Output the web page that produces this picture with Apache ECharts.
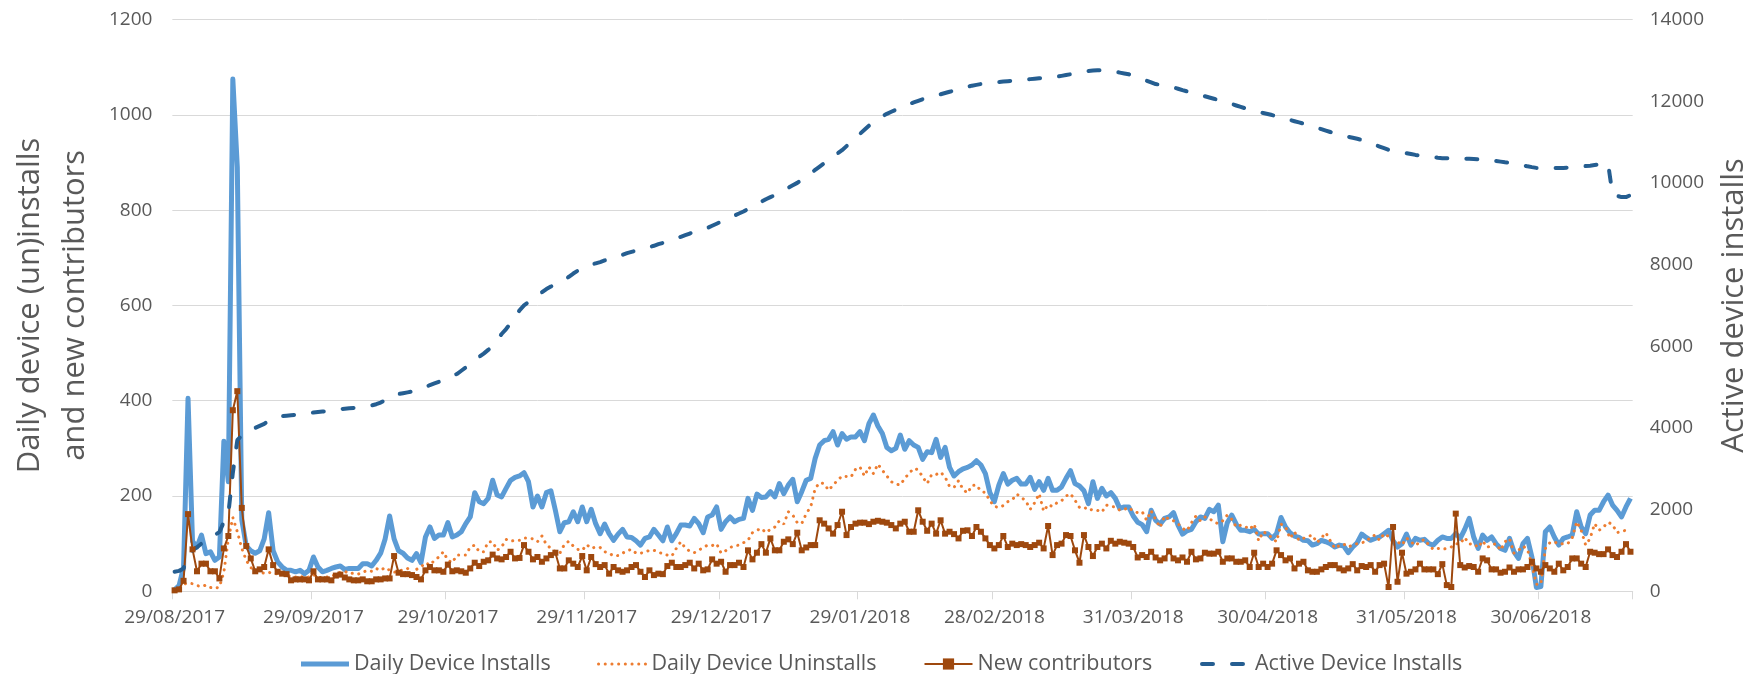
<!DOCTYPE html>
<html><head><meta charset="utf-8">
<script src="https://cdn.jsdelivr.net/npm/echarts@6/dist/echarts.min.js"></script>
<style>html,body{margin:0;padding:0;background:#fff}#c{width:1763px;height:674px}</style>
</head><body><div id="c"></div><script>
// ---------- DATA ----------
const startDate = [2017, 8, 29];   // first day (29/08/2017), one value per day
const dayCount = 326;
const tickIndex = [0, 31, 61, 92, 122, 153, 183, 214, 244, 275, 305];
const tickLabels = ['29/08/2017','29/09/2017','29/10/2017','29/11/2017','29/12/2017','29/01/2018','28/02/2018','31/03/2018','30/04/2018','31/05/2018','30/06/2018'];

const dailyInstalls = [
3,12,50,405,105,93,118,79,83,65,
72,315,230,1075,890,150,95,85,80,85,
110,165,85,62,51,44,44,41,44,37,
44,72,51,41,44,48,51,53,46,48,
48,48,58,58,53,65,80,110,158,110,
85,80,70,65,79,60,114,135,111,118,
118,144,114,118,125,142,156,207,188,184,
195,233,202,198,216,233,239,242,249,230,
177,200,177,207,211,170,125,144,146,167,
146,177,146,172,142,121,141,121,107,120,
130,114,113,106,97,111,114,130,118,106,
135,106,121,139,139,137,153,142,123,156,
160,177,130,146,156,146,151,153,195,170,
204,197,198,209,198,226,205,223,235,188,
209,233,237,279,307,316,319,335,307,331,
319,324,324,335,316,352,370,347,331,302,
295,300,328,298,316,307,302,277,293,291,
319,281,302,260,242,251,257,260,265,274,
265,247,207,188,223,247,225,233,237,225,
225,239,214,230,212,237,212,212,219,237,
253,226,221,211,184,230,195,216,200,207,
195,174,177,177,158,145,140,125,170,149,
141,153,156,165,139,120,127,130,146,156,
153,172,167,181,104,144,160,141,128,128,
125,130,120,121,121,111,121,155,135,123,
116,113,107,106,97,100,107,104,100,93,
97,95,81,93,102,120,113,107,111,114,
121,128,106,93,100,120,97,111,107,109,
100,97,107,114,111,111,121,111,130,153,
114,90,118,107,114,100,90,86,111,83,
69,100,111,72,8,10,125,135,114,97,
111,114,118,167,135,121,160,170,170,188,
202,181,170,156,177,195
];

const dailyUninstalls = [
0,5,15,17,16,12,10,13,8,6,
9,40,110,155,125,90,65,50,42,40,
38,40,37,37,38,35,30,30,32,28,
30,35,30,28,30,32,35,40,42,37,
38,36,40,44,42,48,44,50,44,40,
42,45,48,37,46,51,60,55,65,72,
83,65,60,76,76,76,93,97,83,83,
104,104,86,93,109,105,107,107,112,112,
110,104,116,98,90,83,80,98,105,95,
88,86,98,90,93,92,83,80,74,75,
80,85,88,80,80,82,86,86,83,78,
76,74,90,104,91,84,81,86,92,97,
96,100,80,85,92,95,97,102,107,123,
128,132,123,130,135,148,141,167,160,144,
142,163,177,216,228,226,212,223,233,242,
241,240,256,261,242,261,247,267,254,242,
230,225,223,237,248,258,255,240,226,245,
245,250,240,220,218,232,214,206,222,223,
210,207,190,178,176,180,188,192,204,197,
190,172,186,205,168,182,178,186,190,200,
205,191,176,177,170,172,170,166,181,178,
177,170,172,176,168,165,167,149,169,151,
134,158,151,148,142,132,127,144,158,148,
156,153,145,142,148,160,151,135,139,136,
130,141,106,125,120,112,104,141,135,111,
125,107,111,115,118,102,112,123,106,90,
96,99,93,97,100,102,104,114,118,107,
121,115,109,104,97,112,104,96,104,109,
97,88,90,88,90,93,100,100,113,99,
100,92,106,92,97,100,86,104,111,80,
86,95,88,55,15,15,90,102,104,99,
100,100,112,146,128,97,111,142,128,135,
145,140,123,126,128,132
];

const newContributors = [
2,4,22,162,88,42,58,58,42,42,
27,90,116,380,420,175,95,69,42,46,
51,88,55,41,37,36,23,25,25,25,
23,42,25,25,25,23,33,35,29,25,
23,23,25,21,21,25,25,27,27,74,
39,36,36,34,30,25,44,51,44,44,
41,56,42,44,42,39,48,60,53,62,
65,77,69,67,72,83,69,70,97,83,
67,72,62,69,76,81,48,48,65,58,
51,74,44,72,57,51,55,37,51,44,
41,44,51,55,41,30,44,34,37,36,
53,60,51,51,55,60,48,58,44,46,
67,58,62,41,55,55,60,51,86,67,
81,99,81,111,86,86,104,109,99,123,
86,92,97,97,149,142,132,121,139,167,
118,135,142,144,144,141,146,148,146,144,
139,132,142,146,125,125,170,146,127,142,
121,149,121,125,120,111,127,128,116,135,
125,111,97,90,97,116,93,100,97,99,
97,93,97,102,90,137,76,97,100,118,
116,86,60,118,93,74,93,100,90,106,
100,104,102,100,93,71,76,72,83,71,
65,69,84,69,65,71,62,83,67,69,
81,79,79,83,62,69,69,62,62,65,
51,81,51,58,51,58,86,76,65,69,
48,58,62,44,41,41,46,51,55,55,
48,44,48,57,44,53,51,55,41,55,
58,9,135,20,81,37,41,46,58,46,
46,46,36,57,13,9,163,55,50,53,
51,41,69,65,46,46,39,41,50,41,
46,46,51,62,48,41,55,48,41,58,
44,51,69,69,58,51,83,81,78,78,
88,76,72,83,99,83
];

const activeInstalls = [
480,500,560,900,1000,1080,1170,1240,1310,1380,
1450,1700,1900,2900,3700,3820,3880,3950,4000,4050,
4100,4180,4220,4260,4290,4300,4310,4320,4330,4340,
4350,4380,4390,4400,4410,4420,4440,4460,4470,4480,
4490,4500,4510,4530,4550,4580,4620,4680,4760,4800,
4830,4850,4870,4890,4920,4950,5000,5050,5090,5130,
5180,5230,5270,5320,5400,5480,5570,5660,5740,5820,
5910,6000,6150,6300,6420,6560,6700,6880,7000,7080,
7170,7250,7320,7400,7460,7530,7580,7630,7700,7780,
7850,7920,7960,8000,8030,8060,8100,8140,8170,8200,
8240,8280,8310,8340,8370,8400,8430,8460,8500,8530,
8560,8590,8630,8680,8720,8760,8800,8830,8860,8900,
8950,9000,9050,9100,9150,9200,9250,9300,9360,9420,
9480,9540,9600,9650,9700,9760,9820,9880,9940,10000,
10080,10150,10230,10320,10400,10480,10560,10640,10720,10800,
10900,11000,11100,11200,11300,11400,11480,11560,11630,11690,
11740,11790,11840,11890,11930,11970,12010,12050,12080,12110,
12140,12170,12200,12230,12260,12290,12320,12350,12380,12400,
12420,12440,12450,12460,12470,12480,12490,12500,12510,12520,
12530,12540,12550,12560,12570,12580,12590,12600,12620,12640,
12660,12680,12700,12720,12740,12750,12760,12760,12750,12740,
12720,12700,12680,12660,12620,12580,12540,12500,12460,12420,
12400,12385,12366,12335,12305,12270,12240,12209,12180,12150,
12120,12090,12060,12030,11999,11965,11930,11895,11860,11825,
11789,11760,11735,11710,11685,11660,11632,11600,11570,11540,
11510,11480,11450,11420,11385,11350,11315,11280,11245,11209,
11180,11155,11130,11105,11080,11052,11010,10970,10930,10890,
10850,10810,10790,10770,10750,10725,10705,10685,10670,10655,
10640,10630,10615,10605,10600,10600,10600,10595,10590,10590,
10585,10580,10580,10565,10550,10535,10520,10505,10494,10475,
10455,10430,10405,10385,10367,10367,10367,10367,10367,10367,
10367,10375,10385,10395,10405,10412,10420,10435,10450,10462,
10472,9720,9684,9652,9652,9700
];

// ---------- CHART ----------
function pad(n){return (n<10?'0':'')+n;}
const categories = [];
for (let i = 0; i < dayCount; i++) {
  const d = new Date(Date.UTC(startDate[0], startDate[1]-1, startDate[2] + i));
  categories.push(pad(d.getUTCDate())+'/'+pad(d.getUTCMonth()+1)+'/'+d.getUTCFullYear());
}
const labelAt = {};
tickIndex.forEach((ix, k) => { labelAt[ix] = tickLabels[k]; });

const FONT = '"Open Sans", "Noto Sans", sans-serif';
const TXT = '#595959';
const GRID = '#d9d9d9';
const C_INST = '#5B9BD5', C_UNINST = '#ED7D31', C_CONTRIB = '#9E480E', C_ACTIVE = '#255E91';
const DOTS = [0.1, 6.6], DASH = [11, 19];

const chart = echarts.init(document.getElementById('c'), null, {renderer: 'canvas'});
const legendBase = {
  orient: 'horizontal', top: 648, itemWidth: 48, itemHeight: 14, itemGap: 6,
  textStyle: {color: TXT, fontSize: 21.5, fontFamily: FONT},
  selectedMode: false
};
chart.setOption({
  animation: false,
  backgroundColor: '#ffffff',
  grid: {left: 159.3, right: 130.3, top: 19.5, bottom: 82.7, containLabel: false},
  legend: [
    Object.assign({}, legendBase, {left: 293.5, data: ['Daily Device Installs'],
      itemStyle: {opacity: 0}, lineStyle: {width: 5, color: C_INST}}),
    Object.assign({}, legendBase, {left: 592, data: ['Daily Device Uninstalls'],
      itemStyle: {opacity: 0}, lineStyle: {width: 3, color: C_UNINST, type: DOTS, cap: 'round'}}),
    Object.assign({}, legendBase, {left: 918.5, data: ['New contributors'],
      lineStyle: {width: 2, color: C_CONTRIB}}),
    Object.assign({}, legendBase, {left: 1195, data: ['Active Device Installs'],
      itemStyle: {opacity: 0}, lineStyle: {width: 4, color: C_ACTIVE, type: DASH, cap: 'round'}})
  ],
  xAxis: {
    type: 'category', data: categories, boundaryGap: true,
    axisLine: {lineStyle: {color: GRID, width: 1}},
    axisTick: {show: true, length: 8, lineStyle: {color: GRID}, interval: (i) => labelAt[i] !== undefined},
    axisLabel: {interval: (i) => labelAt[i] !== undefined, formatter: (v, i) => labelAt[i] || '',
      color: TXT, fontSize: 19, fontFamily: FONT, margin: 17},
    splitLine: {show: false}
  },
  yAxis: [
    {type: 'value', min: 0, max: 1200, interval: 200, position: 'left',
     axisLine: {show: false}, axisTick: {show: false},
     axisLabel: {color: TXT, fontSize: 19, fontFamily: FONT, margin: 20, formatter: (v) => String(v)},
     splitLine: {lineStyle: {color: GRID, width: 1}},
     name: 'Daily device (un)installs\nand new contributors', nameLocation: 'middle', nameRotate: 90, nameGap: 72,
     nameTextStyle: {color: TXT, fontSize: 31, fontFamily: FONT, lineHeight: 45}},
    {type: 'value', min: 0, max: 14000, interval: 2000, position: 'right',
     axisLine: {show: false}, axisTick: {show: false},
     axisLabel: {color: TXT, fontSize: 19, fontFamily: FONT, margin: 17, formatter: (v) => String(v)},
     splitLine: {show: false},
     name: 'Active device installs', nameLocation: 'middle', nameRotate: 90, nameGap: 86,
     nameTextStyle: {color: TXT, fontSize: 31, fontFamily: FONT}}
  ],
  series: [
    {name: 'Daily Device Installs', type: 'line', yAxisIndex: 0, data: dailyInstalls,
     showSymbol: false, symbol: 'none', color: C_INST,
     lineStyle: {color: C_INST, width: 5, join: 'round'}},
    {name: 'Daily Device Uninstalls', type: 'line', yAxisIndex: 0, data: dailyUninstalls,
     showSymbol: false, symbol: 'none', color: C_UNINST,
     lineStyle: {color: C_UNINST, width: 3, type: DOTS, cap: 'round'}},
    {name: 'New contributors', type: 'line', yAxisIndex: 0, data: newContributors,
     symbol: 'rect', symbolSize: 6, showSymbol: true, showAllSymbol: true, color: C_CONTRIB,
     itemStyle: {color: C_CONTRIB}, lineStyle: {color: C_CONTRIB, width: 2}},
    {name: 'Active Device Installs', type: 'line', yAxisIndex: 1, data: activeInstalls,
     showSymbol: false, symbol: 'none', color: C_ACTIVE,
     lineStyle: {color: C_ACTIVE, width: 4, type: DASH, cap: 'round'}}
  ]
});
</script></body></html>
